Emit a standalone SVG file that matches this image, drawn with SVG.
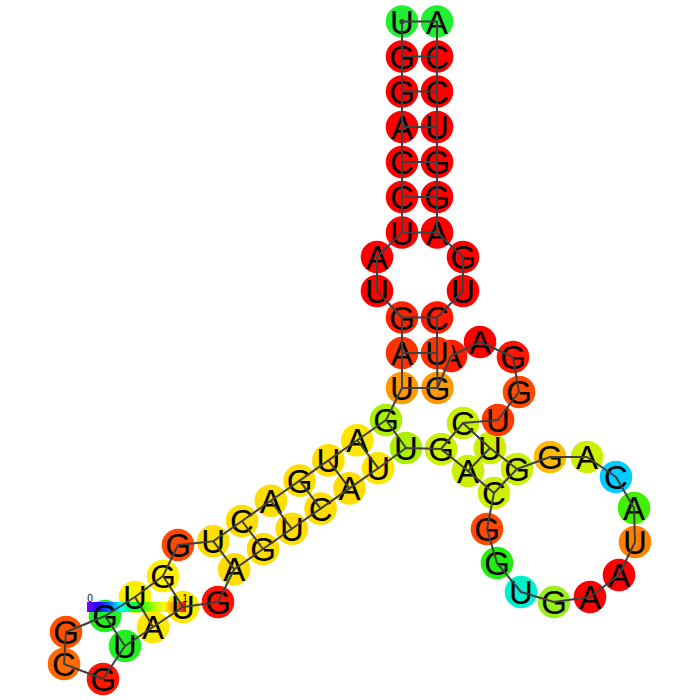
<svg xmlns="http://www.w3.org/2000/svg" width="700" height="700" viewBox="0 0 700 700">
<defs>
<linearGradient id="cmap" x1="0" y1="0" x2="1" y2="0">
<stop offset="0" stop-color="#8000ff"/>
<stop offset="0.111" stop-color="#2000ff"/>
<stop offset="0.222" stop-color="#0060ff"/>
<stop offset="0.333" stop-color="#00ffff"/>
<stop offset="0.444" stop-color="#00ff60"/>
<stop offset="0.556" stop-color="#20ff00"/>
<stop offset="0.667" stop-color="#a0ff00"/>
<stop offset="0.778" stop-color="#ffff00"/>
<stop offset="0.889" stop-color="#ff8000"/>
<stop offset="1" stop-color="#ff0000"/>
</linearGradient>
<clipPath id="nobar" clipPathUnits="userSpaceOnUse">
<path clip-rule="evenodd" d="M0,0H700V700H0Z M87,602H186V612H87Z"/>
</clipPath>
</defs>
<style>
.nd circle { stroke: none; clip-path: url(#nobar); }
.nd text { font-family: "Liberation Sans", Arial, sans-serif; font-size: 33px; text-anchor: middle; fill: #000; }
#connectors line { stroke: #404040; stroke-width: 2; stroke-linecap: round; }
.lbl { font-family: "Liberation Sans", Arial, sans-serif; font-size: 10px; text-anchor: middle; fill: #000; }
</style>
<rect width="700" height="700" fill="#fff"/>
<g id="colorbar">
<rect x="87" y="602" width="99" height="10" fill="url(#cmap)"/>
</g>
<g id="nodes">
<g id="n1" class="nd"><circle cx="402" cy="21.5" r="16.3" fill="#22ee33"/><text x="402" y="33.5">U</text></g>
<g id="n2" class="nd"><circle cx="402" cy="56.5" r="16.3" fill="#ff0000"/><text x="402" y="68.5">G</text></g>
<g id="n3" class="nd"><circle cx="402" cy="91.5" r="16.3" fill="#ff0000"/><text x="402" y="103.5">G</text></g>
<g id="n4" class="nd"><circle cx="402" cy="127" r="16.3" fill="#ff0000"/><text x="402" y="139">A</text></g>
<g id="n5" class="nd"><circle cx="402" cy="162" r="16.3" fill="#ff0000"/><text x="402" y="174">C</text></g>
<g id="n6" class="nd"><circle cx="402" cy="197" r="16.3" fill="#ff0000"/><text x="402" y="209">C</text></g>
<g id="n7" class="nd"><circle cx="402" cy="232.5" r="16.3" fill="#ff0000"/><text x="402" y="244.5">U</text></g>
<g id="n8" class="nd"><circle cx="377" cy="257" r="16.3" fill="#ff0000"/><text x="377" y="269">A</text></g>
<g id="n9" class="nd"><circle cx="377" cy="291" r="16.3" fill="#ff0000"/><text x="377" y="303">U</text></g>
<g id="n10" class="nd"><circle cx="402" cy="317.5" r="16.3" fill="#ff2200"/><text x="402" y="329.5">G</text></g>
<g id="n11" class="nd"><circle cx="402" cy="353" r="16.3" fill="#ff3300"/><text x="402" y="365">A</text></g>
<g id="n12" class="nd"><circle cx="402" cy="388" r="16.3" fill="#ff9900"/><text x="402" y="400">U</text></g>
<g id="n13" class="nd"><circle cx="386" cy="420" r="16.3" fill="#aaf000"/><text x="386" y="432">G</text></g>
<g id="n14" class="nd"><circle cx="357.2" cy="440.2" r="16.3" fill="#ffe600"/><text x="357.2" y="452.2">A</text></g>
<g id="n15" class="nd"><circle cx="328.4" cy="460.4" r="16.3" fill="#ffdd00"/><text x="328.4" y="472.4">U</text></g>
<g id="n16" class="nd"><circle cx="299.6" cy="480.6" r="16.3" fill="#ffdd00"/><text x="299.6" y="492.6">G</text></g>
<g id="n17" class="nd"><circle cx="270.8" cy="500.8" r="16.3" fill="#ffdd00"/><text x="270.8" y="512.8">A</text></g>
<g id="n18" class="nd"><circle cx="242" cy="521" r="16.3" fill="#ffdd00"/><text x="242" y="533">C</text></g>
<g id="n19" class="nd"><circle cx="213.2" cy="541.2" r="16.3" fill="#ffdd00"/><text x="213.2" y="553.2">U</text></g>
<g id="n20" class="nd"><circle cx="178" cy="545" r="16.3" fill="#ff4800"/><text x="178" y="557">G</text></g>
<g id="n21" class="nd"><circle cx="163" cy="576" r="16.3" fill="#ffee00"/><text x="163" y="588">G</text></g>
<g id="n22" class="nd"><circle cx="135" cy="597" r="16.3" fill="#ffee00"/><text x="135" y="609">U</text></g>
<g id="n23" class="nd"><circle cx="105" cy="616" r="16.3" fill="#22ee22"/><text x="105" y="628">G</text></g>
<g id="n24" class="nd"><circle cx="66" cy="632" r="16.3" fill="#ff5000"/><text x="66" y="644">G</text></g>
<g id="n25" class="nd"><circle cx="64" cy="664" r="16.3" fill="#ff6a00"/><text x="64" y="676">C</text></g>
<g id="n26" class="nd"><circle cx="103" cy="679" r="16.3" fill="#ff1500"/><text x="103" y="691">G</text></g>
<g id="n27" class="nd"><circle cx="125" cy="646" r="16.3" fill="#22ee22"/><text x="125" y="658">U</text></g>
<g id="n28" class="nd"><circle cx="153" cy="627" r="16.3" fill="#ffe800"/><text x="153" y="639">A</text></g>
<g id="n29" class="nd"><circle cx="183" cy="607" r="16.3" fill="#ffe800"/><text x="183" y="619">U</text></g>
<g id="n30" class="nd"><circle cx="218" cy="602" r="16.3" fill="#ff1100"/><text x="218" y="614">G</text></g>
<g id="n31" class="nd"><circle cx="234.2" cy="569.2" r="16.3" fill="#ffdd00"/><text x="234.2" y="581.2">A</text></g>
<g id="n32" class="nd"><circle cx="263" cy="549" r="16.3" fill="#ffdd00"/><text x="263" y="561">G</text></g>
<g id="n33" class="nd"><circle cx="291.8" cy="528.8" r="16.3" fill="#ffdd00"/><text x="291.8" y="540.8">U</text></g>
<g id="n34" class="nd"><circle cx="320.6" cy="508.6" r="16.3" fill="#ffdd00"/><text x="320.6" y="520.6">C</text></g>
<g id="n35" class="nd"><circle cx="349.4" cy="488.4" r="16.3" fill="#ffdd00"/><text x="349.4" y="500.4">A</text></g>
<g id="n36" class="nd"><circle cx="378.2" cy="468.2" r="16.3" fill="#ffe600"/><text x="378.2" y="480.2">U</text></g>
<g id="n37" class="nd"><circle cx="406" cy="448" r="16.3" fill="#aaf000"/><text x="406" y="460">U</text></g>
<g id="n38" class="nd"><circle cx="441" cy="449" r="16.3" fill="#ccf000"/><text x="441" y="461">G</text></g>
<g id="n39" class="nd"><circle cx="468" cy="471" r="16.3" fill="#ccf000"/><text x="468" y="483">A</text></g>
<g id="n40" class="nd"><circle cx="494" cy="493" r="16.3" fill="#ccf000"/><text x="494" y="505">C</text></g>
<g id="n41" class="nd"><circle cx="487" cy="529" r="16.3" fill="#ff4800"/><text x="487" y="541">G</text></g>
<g id="n42" class="nd"><circle cx="497" cy="563" r="16.3" fill="#22ee11"/><text x="497" y="575">G</text></g>
<g id="n43" class="nd"><circle cx="521" cy="592" r="16.3" fill="#00f0cc"/><text x="521" y="604">U</text></g>
<g id="n44" class="nd"><circle cx="554" cy="602" r="16.3" fill="#99ee22"/><text x="554" y="614">G</text></g>
<g id="n45" class="nd"><circle cx="590" cy="597" r="16.3" fill="#ff0000"/><text x="590" y="609">A</text></g>
<g id="n46" class="nd"><circle cx="619" cy="575" r="16.3" fill="#ff0000"/><text x="619" y="587">A</text></g>
<g id="n47" class="nd"><circle cx="635" cy="542" r="16.3" fill="#ff8000"/><text x="635" y="554">U</text></g>
<g id="n48" class="nd"><circle cx="634" cy="508" r="16.3" fill="#44ee00"/><text x="634" y="520">A</text></g>
<g id="n49" class="nd"><circle cx="616" cy="477" r="16.3" fill="#00ccff"/><text x="616" y="489">C</text></g>
<g id="n50" class="nd"><circle cx="587" cy="457" r="16.3" fill="#ccf000"/><text x="587" y="469">A</text></g>
<g id="n51" class="nd"><circle cx="550" cy="457" r="16.3" fill="#ffbb00"/><text x="550" y="469">G</text></g>
<g id="n52" class="nd"><circle cx="517" cy="469" r="16.3" fill="#ccf000"/><text x="517" y="481">G</text></g>
<g id="n53" class="nd"><circle cx="490" cy="448" r="16.3" fill="#ccf000"/><text x="490" y="460">U</text></g>
<g id="n54" class="nd"><circle cx="463" cy="423" r="16.3" fill="#ccf000"/><text x="463" y="435">C</text></g>
<g id="n55" class="nd"><circle cx="498" cy="420" r="16.3" fill="#ff3c00"/><text x="498" y="432">U</text></g>
<g id="n56" class="nd"><circle cx="519" cy="392" r="16.3" fill="#ff4800"/><text x="519" y="404">G</text></g>
<g id="n57" class="nd"><circle cx="513" cy="357" r="16.3" fill="#ff1500"/><text x="513" y="369">G</text></g>
<g id="n58" class="nd"><circle cx="480" cy="342" r="16.3" fill="#ff0000"/><text x="480" y="354">A</text></g>
<g id="n59" class="nd"><circle cx="451" cy="356" r="16.3" fill="#ff1a00"/><text x="451" y="368">A</text></g>
<g id="n60" class="nd"><circle cx="437.5" cy="388" r="16.3" fill="#ff9900"/><text x="437.5" y="400">G</text></g>
<g id="n61" class="nd"><circle cx="437" cy="353" r="16.3" fill="#ff3300"/><text x="437" y="365">U</text></g>
<g id="n62" class="nd"><circle cx="437" cy="317.5" r="16.3" fill="#ff1a00"/><text x="437" y="329.5">C</text></g>
<g id="n63" class="nd"><circle cx="463" cy="291" r="16.3" fill="#ff0000"/><text x="463" y="303">U</text></g>
<g id="n64" class="nd"><circle cx="463" cy="257" r="16.3" fill="#ff0000"/><text x="463" y="269">G</text></g>
<g id="n65" class="nd"><circle cx="437" cy="232.5" r="16.3" fill="#ff0000"/><text x="437" y="244.5">A</text></g>
<g id="n66" class="nd"><circle cx="437" cy="197" r="16.3" fill="#ff0000"/><text x="437" y="209">G</text></g>
<g id="n67" class="nd"><circle cx="437" cy="162" r="16.3" fill="#ff0000"/><text x="437" y="174">G</text></g>
<g id="n68" class="nd"><circle cx="437" cy="127" r="16.3" fill="#ff0000"/><text x="437" y="139">U</text></g>
<g id="n69" class="nd"><circle cx="437" cy="91.5" r="16.3" fill="#ff0000"/><text x="437" y="103.5">C</text></g>
<g id="n70" class="nd"><circle cx="437" cy="56.5" r="16.3" fill="#ff0000"/><text x="437" y="68.5">C</text></g>
<g id="n71" class="nd"><circle cx="437" cy="21.5" r="16.3" fill="#22ee33"/><text x="437" y="33.5">A</text></g>
</g>
<g id="connectors">
<polyline fill="none" stroke="#404040" stroke-width="2" stroke-linejoin="round" points="402,21.5 402,56.5 402,91.5 402,127 402,162 402,197 402,232.5 377,257 377,291 402,317.5 402,353 402,388 386,420 357.2,440.2 328.4,460.4 299.6,480.6 270.8,500.8 242,521 213.2,541.2 178,545 163,576 135,597 105,616 66,632 64,664 103,679 125,646 153,627 183,607 218,602 234.2,569.2 263,549 291.8,528.8 320.6,508.6 349.4,488.4 378.2,468.2 406,448 441,449 468,471 494,493 487,529 497,563 521,592 554,602 590,597 619,575 635,542 634,508 616,477 587,457 550,457 517,469 490,448 463,423 498,420 519,392 513,357 480,342 451,356 437.5,388 437,353 437,317.5 463,291 463,257 437,232.5 437,197 437,162 437,127 437,91.5 437,56.5 437,21.5"/>
<line x1="402" y1="21.5" x2="437" y2="21.5"/>
<line x1="402" y1="56.5" x2="437" y2="56.5"/>
<line x1="402" y1="91.5" x2="437" y2="91.5"/>
<line x1="402" y1="127" x2="437" y2="127"/>
<line x1="402" y1="162" x2="437" y2="162"/>
<line x1="402" y1="197" x2="437" y2="197"/>
<line x1="402" y1="232.5" x2="437" y2="232.5"/>
<line x1="402" y1="317.5" x2="437" y2="317.5"/>
<line x1="402" y1="353" x2="437" y2="353"/>
<line x1="402" y1="388" x2="437.5" y2="388"/>
<line x1="386" y1="420" x2="406" y2="448"/>
<line x1="357.2" y1="440.2" x2="378.2" y2="468.2"/>
<line x1="328.4" y1="460.4" x2="349.4" y2="488.4"/>
<line x1="299.6" y1="480.6" x2="320.6" y2="508.6"/>
<line x1="270.8" y1="500.8" x2="291.8" y2="528.8"/>
<line x1="242" y1="521" x2="263" y2="549"/>
<line x1="213.2" y1="541.2" x2="234.2" y2="569.2"/>
<line x1="163" y1="576" x2="183" y2="607"/>
<line x1="135" y1="597" x2="153" y2="627"/>
<line x1="105" y1="616" x2="125" y2="646"/>
<line x1="441" y1="449" x2="463" y2="423"/>
<line x1="468" y1="471" x2="490" y2="448"/>
<line x1="494" y1="493" x2="517" y2="469"/>
<circle cx="402" cy="21.5" r="2.6" fill="#404040"/>
</g>
<g id="colorbar-labels">
<text class="lbl" x="90" y="602">0</text>
<text class="lbl" x="185" y="602">1</text>
</g>
</svg>
